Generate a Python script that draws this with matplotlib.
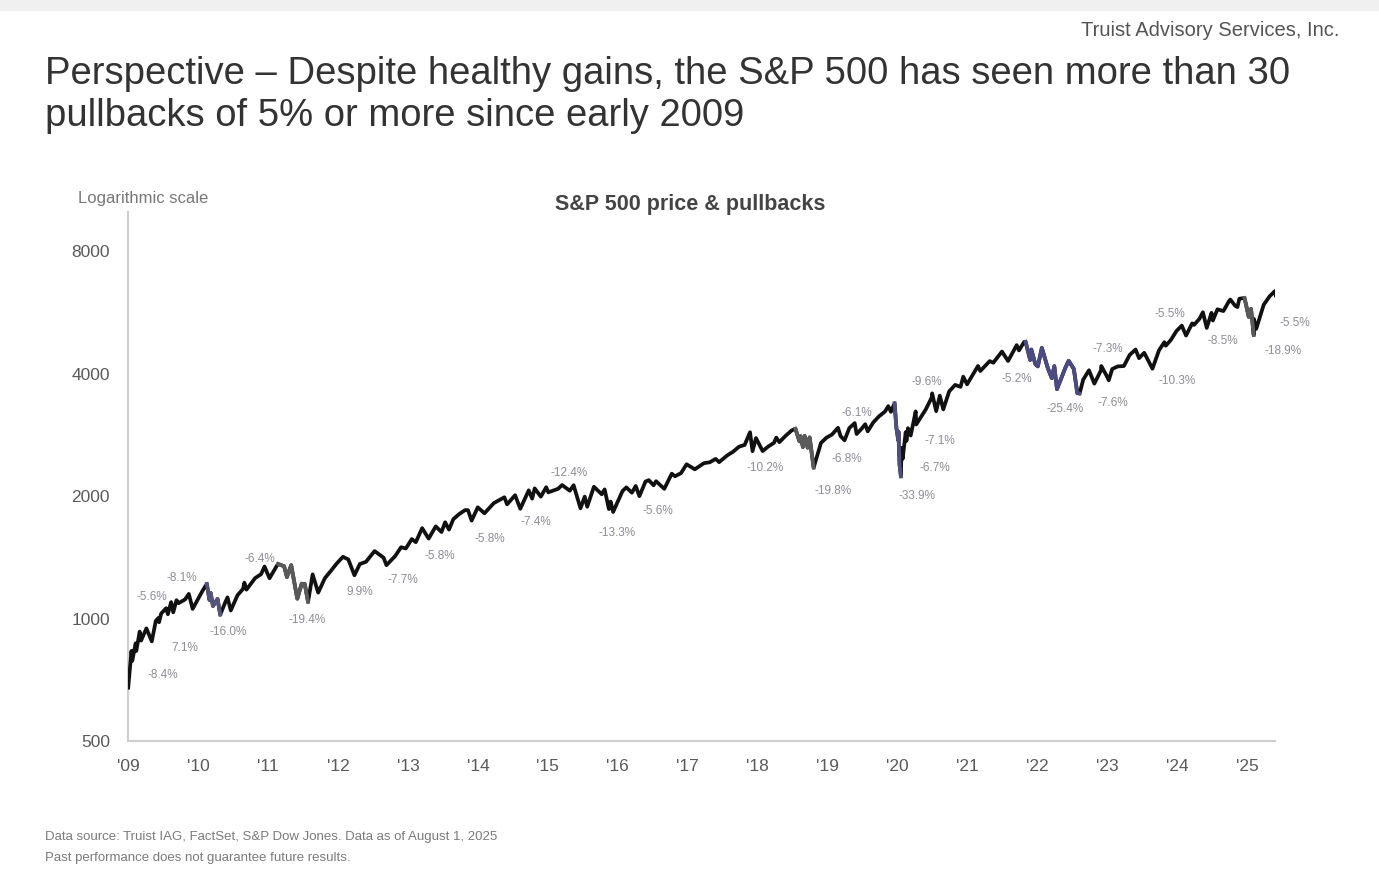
import matplotlib
matplotlib.use("Agg")
import matplotlib.pyplot as plt
from matplotlib.ticker import NullLocator
import pandas as pd

plt.rcParams['font.family'] = ['Liberation Sans', 'DejaVu Sans']

# S&P 500 closes (month ends plus pullback peaks / troughs)
dates = [
    "2009-03-09", "2009-03-26", "2009-03-30", "2009-04-17", "2009-04-20", "2009-05-08", "2009-05-15",
    "2009-06-12", "2009-07-10", "2009-07-31", "2009-08-14", "2009-08-17", "2009-08-28", "2009-09-23",
    "2009-10-02", "2009-10-19", "2009-10-30", "2009-11-16", "2009-11-27", "2009-12-31",
    "2010-01-19", "2010-02-08", "2010-03-31", "2010-04-23", "2010-05-07", "2010-05-13", "2010-05-25",
    "2010-06-18", "2010-07-02", "2010-07-30", "2010-08-09", "2010-08-26", "2010-09-30", "2010-10-29",
    "2010-11-05", "2010-11-16", "2010-12-31",
    "2011-01-31", "2011-02-18", "2011-03-16", "2011-04-29", "2011-05-31", "2011-06-15", "2011-07-07",
    "2011-08-08", "2011-08-31", "2011-09-16", "2011-10-03", "2011-10-27", "2011-11-25", "2011-12-30",
    "2012-01-31", "2012-02-29", "2012-04-02", "2012-04-30", "2012-06-01", "2012-06-29", "2012-07-31",
    "2012-09-14", "2012-10-31", "2012-11-15", "2012-12-31",
    "2013-01-31", "2013-02-25", "2013-03-28", "2013-04-18", "2013-05-21", "2013-06-24", "2013-07-31",
    "2013-08-30", "2013-09-18", "2013-10-08", "2013-10-31", "2013-11-29", "2013-12-31",
    "2014-01-15", "2014-02-03", "2014-03-07", "2014-04-11", "2014-05-30", "2014-06-30", "2014-07-24",
    "2014-08-07", "2014-09-18", "2014-10-15", "2014-11-28", "2014-12-16", "2014-12-29",
    "2015-01-30", "2015-02-27", "2015-03-10", "2015-04-30", "2015-05-21", "2015-06-30", "2015-07-20",
    "2015-08-25", "2015-09-16", "2015-09-29", "2015-11-03", "2015-12-14", "2015-12-29",
    "2016-01-20", "2016-01-29", "2016-02-11", "2016-03-31", "2016-04-20", "2016-05-19", "2016-06-08",
    "2016-06-27", "2016-07-29", "2016-08-15", "2016-09-09", "2016-09-22", "2016-11-04", "2016-12-13",
    "2016-12-30",
    "2017-01-31", "2017-03-01", "2017-04-13", "2017-05-31", "2017-06-30", "2017-07-31", "2017-08-18",
    "2017-09-29", "2017-10-31", "2017-11-30", "2017-12-29",
    "2018-01-26", "2018-02-08", "2018-02-26", "2018-04-02", "2018-04-30", "2018-05-31", "2018-06-12",
    "2018-06-28", "2018-07-31", "2018-08-31", "2018-09-20", "2018-10-11", "2018-10-17", "2018-10-29",
    "2018-11-07", "2018-11-23", "2018-12-03", "2018-12-24",
    "2019-01-31", "2019-02-28", "2019-03-29", "2019-04-30", "2019-05-13", "2019-06-03", "2019-06-28",
    "2019-07-26", "2019-08-05", "2019-08-30", "2019-09-19", "2019-10-02", "2019-10-31", "2019-11-29",
    "2019-12-31",
    "2020-01-17", "2020-01-31", "2020-02-19", "2020-02-28", "2020-03-09", "2020-03-10", "2020-03-16",
    "2020-03-23", "2020-03-26", "2020-04-01", "2020-04-17", "2020-04-21", "2020-04-29", "2020-05-13",
    "2020-06-08", "2020-06-11", "2020-06-30", "2020-07-31", "2020-08-31", "2020-09-02", "2020-09-23",
    "2020-10-12", "2020-10-30", "2020-11-30", "2020-12-31",
    "2021-01-29", "2021-02-12", "2021-03-04", "2021-04-30", "2021-05-12", "2021-06-30", "2021-07-19",
    "2021-08-31", "2021-09-02", "2021-10-04", "2021-11-18", "2021-11-30", "2021-12-27",
    "2022-01-03", "2022-01-27", "2022-02-02", "2022-02-23", "2022-03-08", "2022-03-29", "2022-04-29",
    "2022-05-20", "2022-06-02", "2022-06-16", "2022-07-29", "2022-08-16", "2022-09-12", "2022-09-30",
    "2022-10-12", "2022-10-31", "2022-11-30", "2022-12-28",
    "2023-01-31", "2023-02-02", "2023-02-28", "2023-03-13", "2023-03-31", "2023-04-28", "2023-05-31",
    "2023-06-30", "2023-07-31", "2023-08-18", "2023-09-14", "2023-10-27", "2023-11-30", "2023-12-28",
    "2024-01-04", "2024-01-31", "2024-02-29", "2024-03-28", "2024-04-19", "2024-05-21", "2024-05-31",
    "2024-06-28", "2024-07-16", "2024-08-05", "2024-08-30", "2024-09-06", "2024-09-30", "2024-10-31",
    "2024-11-29", "2024-12-06", "2024-12-31",
    "2025-01-13", "2025-01-23", "2025-02-19", "2025-03-13", "2025-03-25", "2025-04-08", "2025-04-09",
    "2025-04-21", "2025-05-30", "2025-06-30", "2025-07-28", "2025-08-01",
]
closes = [
    676.53, 832.86, 787.53, 869.60, 832.39, 929.23, 882.88,
    946.21, 879.13, 987.48, 1004.09, 979.73, 1028.93, 1060.87,
    1025.21, 1097.91, 1036.19, 1109.80, 1091.49, 1115.10,
    1150.23, 1056.74, 1169.43, 1217.28, 1110.88, 1157.44, 1074.03,
    1117.51, 1022.58, 1101.60, 1127.79, 1047.22, 1141.20, 1183.26,
    1225.85, 1178.34, 1257.64,
    1286.12, 1343.01, 1256.88, 1363.61, 1345.20, 1265.42, 1353.22,
    1119.46, 1218.89, 1216.01, 1099.23, 1284.59, 1158.67, 1257.60,
    1312.41, 1365.68, 1419.04, 1397.91, 1278.04, 1362.16, 1379.32,
    1465.77, 1412.16, 1353.33, 1426.19,
    1498.11, 1487.85, 1569.19, 1541.61, 1669.16, 1573.09, 1685.73,
    1632.97, 1725.52, 1655.45, 1756.54, 1805.81, 1848.36,
    1848.38, 1741.89, 1878.04, 1815.69, 1923.57, 1960.23, 1987.98,
    1909.57, 2011.36, 1862.49, 2067.56, 1972.74, 2090.57,
    1994.99, 2104.50, 2044.16, 2085.51, 2130.82, 2063.11, 2128.28,
    1867.61, 1995.31, 1884.09, 2109.79, 2021.94, 2078.36,
    1859.33, 1940.24, 1829.08, 2059.74, 2102.40, 2040.04, 2119.12,
    2000.54, 2173.60, 2190.15, 2127.81, 2177.18, 2085.18, 2271.72,
    2238.83,
    2278.87, 2395.96, 2328.95, 2411.80, 2423.41, 2470.30, 2425.55,
    2519.36, 2575.26, 2647.58, 2673.61,
    2872.87, 2581.00, 2779.60, 2581.88, 2648.05, 2705.27, 2786.85,
    2716.31, 2816.29, 2901.52, 2930.75, 2728.37, 2809.21, 2641.25,
    2813.89, 2632.56, 2790.37, 2351.10,
    2704.10, 2784.49, 2834.40, 2945.83, 2811.87, 2744.45, 2941.76,
    3025.86, 2844.74, 2926.46, 3006.79, 2887.61, 3037.56, 3140.98,
    3230.78,
    3329.62, 3225.52, 3386.15, 2954.22, 2746.56, 2882.23, 2386.13,
    2237.40, 2630.07, 2470.50, 2874.56, 2736.56, 2939.51, 2820.00,
    3232.39, 3002.10, 3100.29, 3271.12, 3500.31, 3580.84, 3236.92,
    3534.22, 3269.96, 3621.63, 3756.07,
    3714.24, 3934.83, 3768.47, 4181.17, 4063.04, 4297.50, 4258.49,
    4522.68, 4536.95, 4300.46, 4704.54, 4567.00, 4791.19,
    4796.56, 4326.51, 4589.38, 4225.50, 4170.70, 4631.60, 4131.93,
    3901.36, 4176.82, 3666.77, 4130.29, 4305.20, 4110.41, 3585.62,
    3577.03, 3871.98, 4080.11, 3783.22,
    4076.60, 4179.76, 3970.15, 3855.76, 4109.31, 4169.48, 4179.83,
    4450.38, 4588.96, 4369.71, 4505.10, 4117.37, 4567.80, 4783.35,
    4688.68, 4845.65, 5096.27, 5254.35, 4967.23, 5321.41, 5277.51,
    5460.48, 5667.20, 5186.33, 5648.40, 5408.42, 5762.48, 5705.45,
    6032.38, 6090.27, 5881.63,
    5836.22, 6118.71, 6144.15, 5521.52, 5776.65, 4982.77, 5456.90,
    5158.20, 5911.69, 6204.95, 6389.77, 6238.01,
]

# bigger drawdowns drawn in a tinted colour (peak date, trough date)
shaded_starts = ["2010-04-23", "2011-04-29", "2018-09-20", "2020-02-19", "2022-01-03", "2025-02-19"]
shaded_ends = ["2010-07-02", "2011-10-03", "2018-12-24", "2020-03-23", "2022-10-12", "2025-04-08"]
shaded_colors = ["#55557a", "#5a5a5a", "#5a5a5a", "#50507e", "#4b4b82", "#5a5a5a"]

# pullback labels and where they sit (decimal year, index level)
pb_labels = ["-8.4%", "7.1%", "-5.6%", "-8.1%", "-16.0%", "-6.4%", "-19.4%", "9.9%", "-7.7%",
             "-5.8%", "-5.8%", "-7.4%", "-12.4%", "-13.3%", "-5.6%", "-10.2%", "-19.8%", "-6.8%",
             "-6.1%", "-33.9%", "-6.7%", "-7.1%", "-9.6%", "-5.2%", "-25.4%", "-7.6%", "-7.3%",
             "-10.3%", "-5.5%", "-8.5%", "-18.9%", "-5.5%"]
pb_x = [2009.68, 2009.99, 2009.52, 2009.95, 2010.61, 2011.07, 2011.74, 2012.49, 2013.11,
        2013.64, 2014.35, 2015.01, 2015.49, 2016.17, 2016.75, 2018.28, 2019.25, 2019.45,
        2019.59, 2020.45, 2020.71, 2020.78, 2020.59, 2021.88, 2022.57, 2023.25, 2023.18,
        2024.17, 2024.07, 2024.82, 2025.68, 2025.85]
pb_y = [726, 845, 1128, 1262, 925, 1405, 990, 1160, 1241,
        1429, 1573, 1732, 2283, 1628, 1843, 2349, 2063, 2472,
        3205, 2005, 2349, 2736, 3818, 3883, 3278, 3391, 4600,
        3840, 5606, 4812, 4548, 5327]

year_ticks = list(range(2009, 2026))
year_labels = ["'%02d" % (y % 100) for y in year_ticks]
y_ticks = [500, 1000, 2000, 4000, 8000]


def to_year(d):
    d = pd.to_datetime(d)
    return d.year + (d.dayofyear - 1) / 365.25


s = pd.Series(closes, index=pd.to_datetime(dates))
x = [to_year(d) for d in s.index]

fig = plt.figure(figsize=(13.79, 8.88), dpi=100)
fig.patches.append(plt.Rectangle((0, 0.989), 1, 0.011, transform=fig.transFigure,
                                 color="#f0f0f0", zorder=0))
ax = fig.add_axes([0.0928, 0.1655, 0.8318, 0.5958])

ax.plot(x, s.values, color="#111111", lw=2.7, solid_joinstyle="round", zorder=3)
for a, b, c in zip(shaded_starts, shaded_ends, shaded_colors):
    seg = s[a:b]
    ax.plot([to_year(d) for d in seg.index], seg.values, color=c, lw=2.7,
            solid_joinstyle="round", zorder=4)

for t, px, py in zip(pb_labels, pb_x, pb_y):
    ax.text(px, py, t, fontsize=8.5, color="#8c8c94", ha="center", va="center", zorder=5)

ax.set_yscale("log")
ax.set_ylim(500, 10000)
ax.set_xlim(to_year("2009-03-09"), 2025.57)
ax.set_yticks(y_ticks)
ax.set_yticklabels([str(v) for v in y_ticks])
ax.yaxis.set_minor_locator(NullLocator())
ax.set_xticks([y + 0.18 for y in year_ticks])
ax.set_xticklabels(year_labels)
ax.tick_params(axis="both", length=0, labelsize=12.5, colors="#5a5a5a")
ax.tick_params(axis="y", pad=13)
ax.tick_params(axis="x", pad=13)
for side in ["top", "right"]:
    ax.spines[side].set_visible(False)
for side in ["left", "bottom"]:
    ax.spines[side].set_color("#cfcfcf")
    ax.spines[side].set_linewidth(1.5)

fig.text(0.5005, 0.770, "S&P 500 price & pullbacks", fontsize=15.5, fontweight="bold",
         color="#444444", ha="center", va="center")
fig.text(0.0566, 0.776, "Logarithmic scale", fontsize=12, color="#777777", ha="left", va="center")

fig.text(0.0326, 1 - 84 / 888, "Perspective \u2013 Despite healthy gains, the S&P 500 has seen more than 30",
         fontsize=27.5, color="#333333", ha="left", va="baseline")
fig.text(0.0326, 1 - 126 / 888, "pullbacks of 5% or more since early 2009",
         fontsize=27.5, color="#333333", ha="left", va="baseline")
fig.text(0.971, 1 - 30 / 888, "Truist Advisory Services, Inc.", fontsize=14.5, color="#555555",
         ha="right", va="center")

fig.text(0.0326, 1 - 837 / 888, "Data source: Truist IAG, FactSet, S&P Dow Jones. Data as of August 1, 2025",
         fontsize=9.5, color="#7a7a7a", ha="left", va="center")
fig.text(0.0326, 1 - 858 / 888, "Past performance does not guarantee future results.",
         fontsize=9.5, color="#7a7a7a", ha="left", va="center")

fig.savefig("out.png", dpi=100)
